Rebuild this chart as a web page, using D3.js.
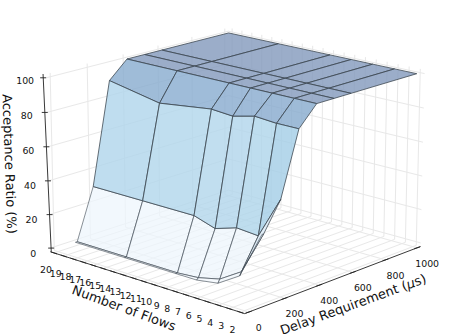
<!DOCTYPE html>
<html>
<head>
<meta charset="utf-8">
<script src="https://cdn.jsdelivr.net/npm/d3@7"></script>
<style>
    html, body { margin: 0; padding: 0; background: #fff; }
    text { font-family: "DejaVu Sans", sans-serif; fill: #111; }
</style>
</head>
<body>
<svg id="chart" width="457" height="334"></svg>
<script>
// values
const flows = [20, 15, 10, 8, 6, 4, 2];
const delays = [96, 106, 200, 300, 400, 500, 600, 1000];
const accept96 = [0, 0, 0, 0, 2, 10, 37];
const accept106 = [0, 0, 0, 1, 4, 12, 37];
const accept200 = [30, 30, 30, 26, 30, 29, 53];
const accept300 = [90, 84, 88, 87, 90, 89, 89];
const accept400 = [100, 100, 100, 100, 100, 100, 100];
const accept500 = [100, 100, 100, 100, 100, 100, 100];
const accept600 = [100, 100, 100, 100, 100, 100, 100];
const accept1000 = [100, 100, 100, 100, 100, 100, 100];
const acceptRows = [accept96, accept106, accept200, accept300, accept400, accept500, accept600, accept1000];

const flowTicks = d3.range(2, 21);
const delayTicks = [0, 200, 400, 600, 800, 1000];
const ratioTicks = [0, 20, 40, 60, 80, 100];

// box is a bit bigger than the data, same as mplot3d
const inset = 1 / 48, halfH = 0.349;
let xs = d3.scaleLinear().domain([0, 1000]).range([-0.5 + inset, 0.5 - inset]);
let ys = d3.scaleLinear().domain([2, 20]).range([-0.5 + inset, 0.5 - inset]);
let zs = d3.scaleLinear().domain([0, 100]).range([-halfH * (1 - 2 * inset), halfH * (1 - 2 * inset)]);

// perspective view
const turn = 47.5 * Math.PI / 180, elev = 16.7 * Math.PI / 180;
const eyeDist = 9, zoom = 265, cx = 236, cy = 161.5;

function boxPoint(p, q, h) {
    let xc = p * Math.cos(turn) - q * Math.sin(turn);
    let along = -p * Math.sin(turn) - q * Math.cos(turn);
    let yc = -along * Math.sin(elev) + h * Math.cos(elev);
    let zc = along * Math.cos(elev) + h * Math.sin(elev);
    let k = eyeDist / (eyeDist - zc);
    return { x: cx + zoom * xc * k, y: cy - zoom * yc * k, depth: zc };
}
function project(d, f, r) {
    return boxPoint(xs(d), ys(f), zs(r));
}

let svg = d3.select("#chart");
let grid = svg.append("g");
let surface = svg.append("g");
let axes = svg.append("g");

function gridLine(p1, p2) {
    grid.append("line")
        .attr("x1", p1.x).attr("y1", p1.y).attr("x2", p2.x).attr("y2", p2.y)
        .attr("stroke", "#e8e8e8").attr("stroke-width", 1);
}

// walls and floor
delayTicks.forEach(d => {
    gridLine(boxPoint(xs(d), -0.5, -halfH), boxPoint(xs(d), 0.5, -halfH));
    gridLine(boxPoint(xs(d), 0.5, -halfH), boxPoint(xs(d), 0.5, halfH));
});
flowTicks.forEach(f => {
    gridLine(boxPoint(-0.5, ys(f), -halfH), boxPoint(0.5, ys(f), -halfH));
    gridLine(boxPoint(0.5, ys(f), -halfH), boxPoint(0.5, ys(f), halfH));
});
ratioTicks.forEach(r => {
    gridLine(boxPoint(-0.5, 0.5, zs(r)), boxPoint(0.5, 0.5, zs(r)));
    gridLine(boxPoint(0.5, 0.5, zs(r)), boxPoint(0.5, -0.5, zs(r)));
});

// surface faces
let faces = [];
for (let i = 0; i < delays.length - 1; i++) {
    for (let j = 0; j < flows.length - 1; j++) {
        let corners = [
            [delays[i], flows[j], acceptRows[i][j]],
            [delays[i], flows[j + 1], acceptRows[i][j + 1]],
            [delays[i + 1], flows[j + 1], acceptRows[i + 1][j + 1]],
            [delays[i + 1], flows[j], acceptRows[i + 1][j]]
        ];
        let pts = corners.map(c => project(...c));
        faces.push({
            pts: pts,
            depth: d3.mean(pts, p => p.depth),
            level: d3.mean(corners, c => c[2])
        });
    }
}
let faceColor = d3.scaleLinear()
    .domain([0, 22, 60, 70, 95, 100])
    .range(["#f3f8fd", "#eaf3fb", "#add4ea", "#98c5e2", "#86a9cd", "#8299bc"]);

surface.selectAll("path")
    .data(faces.sort((a, b) => d3.ascending(a.depth, b.depth)))
    .join("path")
    .attr("d", d => "M" + d.pts.map(p => p.x + "," + p.y).join("L") + "Z")
    .attr("fill", d => faceColor(d.level))
    .attr("fill-opacity", d => d.level < 30 ? 0.72 : 0.8)
    .attr("stroke", "#3c4650")
    .attr("stroke-opacity", d => d.level < 30 ? 0.6 : 0.78)
    .attr("stroke-width", 1)
    .attr("stroke-linejoin", "round");

// axis lines + ticks
function axisLine(p1, p2) {
    axes.append("line")
        .attr("x1", p1.x).attr("y1", p1.y).attr("x2", p2.x).attr("y2", p2.y)
        .attr("stroke", "#222").attr("stroke-width", 0.9);
}
axisLine(boxPoint(-0.5, 0.5, -halfH), boxPoint(-0.5, -0.5, -halfH));
axisLine(boxPoint(-0.5, -0.5, -halfH), boxPoint(0.5, -0.5, -halfH));
let zBottom = boxPoint(-0.5, 0.5, -halfH), zTop = boxPoint(-0.5, 0.5, halfH);
axisLine({ x: zBottom.x + 1, y: zBottom.y }, { x: zTop.x - 3, y: zTop.y });

function tickMark(p, dx, dy) {
    axes.append("line")
        .attr("x1", p.x - dx).attr("y1", p.y - dy).attr("x2", p.x + dx).attr("y2", p.y + dy)
        .attr("stroke", "#222").attr("stroke-width", 0.9);
}
function tickText(p, dx, dy, label) {
    axes.append("text")
        .attr("x", p.x + dx).attr("y", p.y + dy)
        .attr("text-anchor", "middle").attr("dominant-baseline", "central")
        .attr("font-size", 9.4)
        .text(label);
}
flowTicks.forEach(f => {
    let p = boxPoint(-0.5, ys(f), -halfH);
    tickMark(p, 3, 1);
    tickText(p, -8, 17, f);
});
delayTicks.forEach(d => {
    let p = boxPoint(xs(d), -0.5, -halfH);
    tickMark(p, -3, 1);
    tickText(p, 10, 15.5, d);
});
ratioTicks.forEach(r => {
    let p = boxPoint(-0.5, 0.5, zs(r));
    let shift = -3 * (r / 100) + 1 * (1 - r / 100);
    tickMark({ x: p.x + shift, y: p.y }, 3, 0);
    tickText({ x: p.x + shift, y: p.y }, -18, 3 + 2.5 * (1 - r / 100), r);
});

// axis titles
axes.append("text")
    .attr("transform", "translate(124,308) rotate(20)")
    .attr("text-anchor", "middle").attr("dominant-baseline", "central")
    .attr("font-size", 13)
    .text("Number of Flows");
let delayLabel = axes.append("text")
    .attr("transform", "translate(353,304) rotate(-20)")
    .attr("text-anchor", "middle").attr("dominant-baseline", "central")
    .attr("font-size", 13);
delayLabel.append("tspan").text("Delay Requirement (");
delayLabel.append("tspan").attr("font-style", "italic").text("\u03bc");
delayLabel.append("tspan").text("s)");
axes.append("text")
    .attr("transform", "translate(9.5,164) rotate(88)")
    .attr("text-anchor", "middle").attr("dominant-baseline", "central")
    .attr("font-size", 13)
    .text("Acceptance Ratio (%)");
</script>
</body>
</html>
